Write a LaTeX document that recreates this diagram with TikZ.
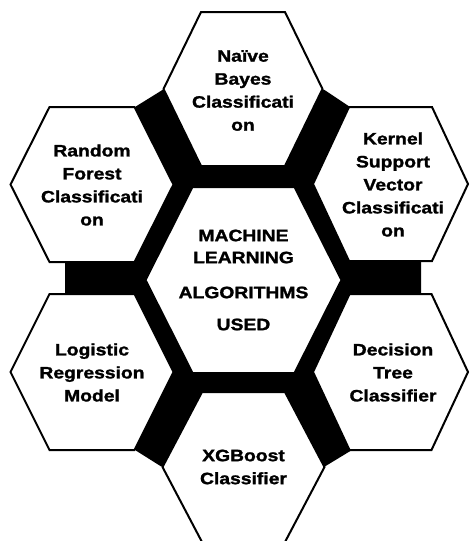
\documentclass[tikz,border=0pt]{standalone}
\usepackage{fontspec}
\newfontfamily\hexfont{Liberation Sans}[FakeStretch=1.17,FakeBold=1.5]
\tikzset{
  hexline/.style={draw=black, line width=2pt, fill=white, line join=miter},
  gapfill/.style={fill=black, rounded corners=1.5pt},
  hextext/.style={align=center, inner sep=0pt, text=black,
    font={\hexfont\bfseries\fontsize{16.5}{23}\selectfont}}
}
% #1 name, #2 cx, #3 cy, #4 half width, #5 half top edge, #6 half height
\newcommand\hexcell[6]{%
  \coordinate (#1) at (#2,#3);
  \draw[hexline] ([shift={(-#5,-#6)}]#1) -- ([shift={(#5,-#6)}]#1)
    -- ([shift={(#4,0)}]#1) -- ([shift={(#5,#6)}]#1)
    -- ([shift={(-#5,#6)}]#1) -- ([shift={(-#4,0)}]#1) -- cycle;}
\begin{document}
\begin{tikzpicture}[x=1pt,y=-1pt]
  \useasboundingbox (0,0) rectangle (469,541);
  \clip (0,0) rectangle (469,541);
  % black gaps between the cells
  \fill[gapfill] (164,89) -- (323,89) -- (350,107) -- (421,185) -- (421,372)
    -- (352,450) -- (324,467) -- (162,467) -- (135,450) -- (65,372)
    -- (65,185) -- (135,107) -- cycle;
  % cells
  \hexcell{T}{243}{89}{79.5}{42}{77}
  \hexcell{LT}{92}{184.5}{81.5}{42.5}{77.5}
  \hexcell{RT}{390.5}{184}{77.5}{41.5}{77}
  \hexcell{LB}{92}{372}{81.5}{42.5}{78}
  \hexcell{RB}{390.5}{372}{77.5}{41}{78}
  \hexcell{B}{243.5}{467}{81}{41.5}{75}
  \hexcell{C}{243.5}{280}{98}{51}{93}
  % texts
  \node[hextext] (tT) at (243,90.5) {Naïve\\Bayes\\Classificati\\on};
  \node[hextext] (tLT) at (92,185) {Random\\Forest\\Classificati\\on};
  \node[hextext] (tRT) at (393,184.5) {Kernel\\Support\\Vector\\Classificati\\on};
  \node[hextext] (tC) at (243.5,280) {MACHINE\\[-1pt]LEARNING\\[12pt]ALGORITHMS\\[9pt]USED};
  \node[hextext] (tLB) at (92,372.5) {Logistic\\Regression\\Model};
  \node[hextext] (tRB) at (393,372.5) {Decision\\Tree\\Classifier};
  \node[hextext] (tB) at (243.5,467) {XGBoost\\Classifier};
\end{tikzpicture}
\end{document}
